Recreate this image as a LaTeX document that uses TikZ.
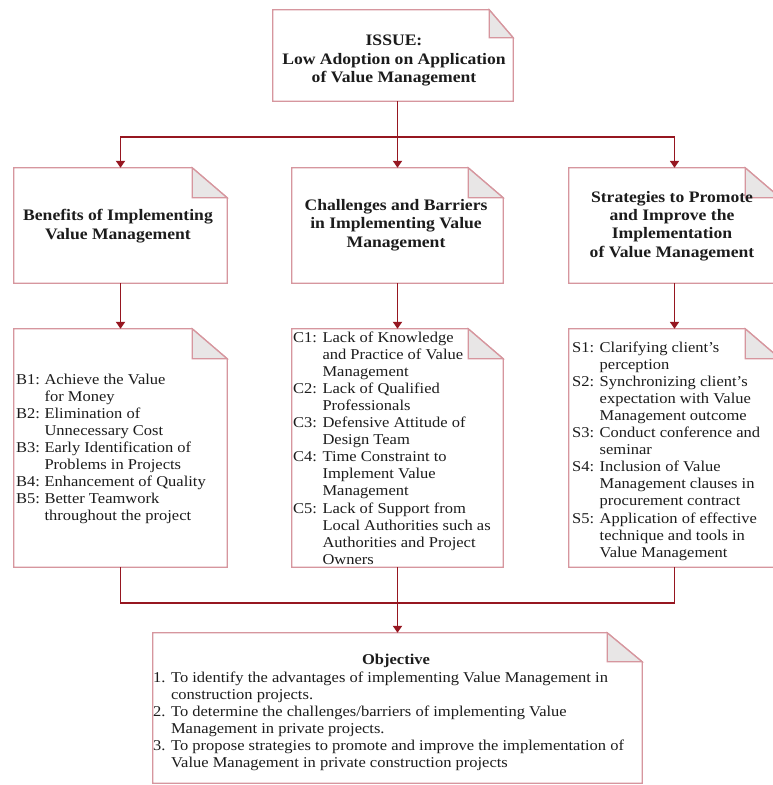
\documentclass[tikz,border=0pt]{standalone}
\usepackage{fontspec}
\setmainfont{Liberation Serif}[FakeStretch=1.1]
\usetikzlibrary{calc,arrows.meta}

\definecolor{edgepink}{RGB}{214,150,158}
\definecolor{shadowgray}{RGB}{185,178,178}
\definecolor{foldgray}{RGB}{232,230,230}
\definecolor{linkred}{RGB}{150,22,32}
\definecolor{inkc}{RGB}{28,28,28}

% Outline of a note with a dog-eared top right corner, drawn round a
% named (invisible) frame node: #1 node, #2 fold width, #3 fold height
\newcommand\foldednote[3]{%
  \fill[shadowgray,shift={(3,3)}]
    (#1.north west) -- ($(#1.north east)+(-#2,0)$) -- ($(#1.north east)+(0,#3)$)
    -- (#1.south east) -- (#1.south west) -- cycle;
  \filldraw[notepen,fill=white]
    (#1.north west) -- ($(#1.north east)+(-#2,0)$) -- ($(#1.north east)+(0,#3)$)
    -- (#1.south east) -- (#1.south west) -- cycle;
  \filldraw[notepen,fill=foldgray]
    ($(#1.north east)+(-#2,0)$) -- ($(#1.north east)+(-#2,#3)$)
    -- ($(#1.north east)+(0,#3)$) -- cycle;
}

\begin{document}
\begin{tikzpicture}[x=1pt,y=-1pt,
  frame/.style={rectangle,inner sep=0pt,draw=none},
  notepen/.style={draw=edgepink,line width=1.3pt,line join=miter},
  heading/.style={inner sep=0pt,align=center,text=inkc,
    font=\fontsize{16}{18.3}\selectfont\bfseries},
  listtext/.style={inner sep=0pt,anchor=base west,text=inkc,
    font=\fontsize{15}{17.1}\selectfont},
  link/.style={draw=linkred,line width=1.8pt},
  linkarrow/.style={link,-{Triangle[width=9pt,length=7pt]}}]

\useasboundingbox (0,0) rectangle (773,785);

% frames of the notes
\node[frame,minimum width=240pt,minimum height=91pt]  (top) at (393,55.5) {};
\node[frame,minimum width=213pt,minimum height=115pt] (bh)  at (120.5,225.5) {};
\node[frame,minimum width=211pt,minimum height=115pt] (ch)  at (397.5,225.5) {};
\node[frame,minimum width=211pt,minimum height=115pt] (sh)  at (674.5,225.5) {};
\node[frame,minimum width=213pt,minimum height=238pt] (bl)  at (120.5,448) {};
\node[frame,minimum width=211pt,minimum height=238pt] (cl)  at (397.5,448) {};
\node[frame,minimum width=211pt,minimum height=238pt] (sl)  at (674.5,448) {};
\node[frame,minimum width=489pt,minimum height=150pt] (obj) at (397.5,708) {};

\foldednote{top}{24}{28}
\foldednote{bh}{35}{30}
\foldednote{ch}{35}{30}
\foldednote{sh}{35}{30}
\foldednote{bl}{35}{30}
\foldednote{cl}{35}{30}
\foldednote{sl}{35}{30}
\foldednote{obj}{35}{29}

% connectors
\coordinate (split) at (397.5,137);
\coordinate (merge) at (397.5,603);
\draw[link] (top.south -| ch.north) -- (split);
\draw[linkarrow] (split) -| (bh.north);
\draw[linkarrow] (split) -- (ch.north);
\draw[linkarrow] (split) -| (sh.north);
\draw[linkarrow] (bh.south) -- (bl.north);
\draw[linkarrow] (ch.south) -- (cl.north);
\draw[linkarrow] (sh.south) -- (sl.north);
\draw[link] (bl.south) |- (merge) -| (sl.south);
\draw[link] (cl.south) -- (merge);
\draw[linkarrow] (merge) -- (obj.north);

% headings
\node[heading,font=\fontsize{16}{18.8}\selectfont\bfseries] (toptext) at (394,60.5)
  {ISSUE:\\Low Adoption on Application\\of Value Management};
\node[heading] (bhtext) at (118,226) {Benefits of Implementing\\Value Management};
\node[heading] (chtext) at (396,225) {Challenges and Barriers\\in Implementing Value\\Management};
\node[heading] (shtext) at (672,226) {Strategies to Promote\\and Improve the\\Implementation\\of Value Management};

% item lists
\node[listtext] (bltext) at (16,384) {\begin{tabular}[t]{@{}l@{\hspace{4.5pt}}l@{}}
B1: & Achieve the Value\\ & for Money\\
B2: & Elimination of\\ & Unnecessary Cost\\
B3: & Early Identification of\\ & Problems in Projects\\
B4: & Enhancement of Quality\\
B5: & Better Teamwork\\ & throughout the project
\end{tabular}};

\node[listtext] (cltext) at (293,342) {\begin{tabular}[t]{@{}l@{\hspace{5.5pt}}l@{}}
C1: & Lack of Knowledge\\ & and Practice of Value\\ & Management\\
C2: & Lack of Qualified\\ & Professionals\\
C3: & Defensive Attitude of\\ & Design Team\\
C4: & Time Constraint to\\ & Implement Value\\ & Management\\
C5: & Lack of Support from\\ & Local Authorities such as\\ & Authorities and Project\\ & Owners
\end{tabular}};

\node[listtext] (sltext) at (572,352) {\begin{tabular}[t]{@{}l@{\hspace{5.5pt}}l@{}}
S1: & Clarifying client's\\ & perception\\
S2: & Synchronizing client's\\ & expectation with Value\\ & Management outcome\\
S3: & Conduct conference and\\ & seminar\\
S4: & Inclusion of Value\\ & Management clauses in\\ & procurement contract\\
S5: & Application of effective\\ & technique and tools in\\ & Value Management
\end{tabular}};

% objective
\node[heading,anchor=base,font=\fontsize{15}{17.1}\selectfont\bfseries] (objtitle) at (396,664) {Objective};
\node[listtext] (objtext) at (153,682) {\begin{tabular}[t]{@{}l@{\hspace{5.5pt}}l@{}}
1. & To identify the advantages of implementing Value Management in\\ & construction projects.\\
2. & To determine the challenges/barriers of implementing Value\\ & Management in private projects.\\
3. & To propose strategies to promote and improve the implementation of\\ & Value Management in private construction projects
\end{tabular}};

\end{tikzpicture}
\end{document}
